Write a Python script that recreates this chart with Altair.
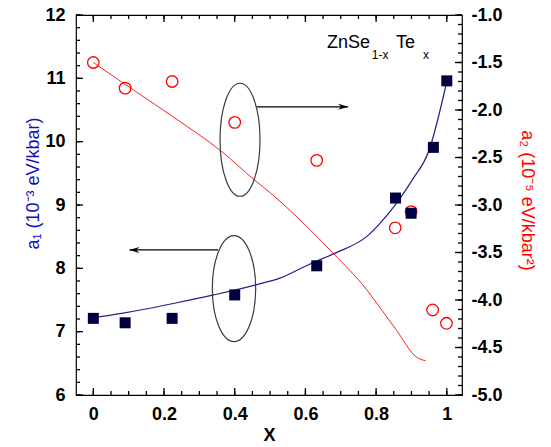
import altair as alt
import pandas as pd

# ---------------- data ----------------
sq_x = [0.0, 0.09, 0.223, 0.40, 0.632, 0.855, 0.899, 0.962, 1.0]
sq_y = [7.21, 7.14, 7.21, 7.58, 8.04, 9.11, 8.87, 9.91, 10.96]

ci_x = [0.0, 0.09, 0.223, 0.40, 0.632, 0.854, 0.899, 0.96, 0.999]
ci_y = [-1.50, -1.77, -1.70, -2.13, -2.53, -3.24, -3.07, -4.105, -4.245]

fit1_x = [0.0, 0.08, 0.16, 0.24, 0.34, 0.46, 0.53, 0.61, 0.684, 0.773, 0.811, 0.858, 0.905, 0.947, 1.0]
fit1_y = [7.22, 7.29, 7.37, 7.46, 7.58, 7.74, 7.85, 8.06, 8.24, 8.50, 8.71, 9.03, 9.42, 9.82, 10.95]

fit2_x = [0.0, 0.09, 0.225, 0.364, 0.457, 0.5, 0.613, 0.679, 0.773, 0.811, 0.858, 0.914, 0.94]
fit2_y = [-1.50, -1.73, -2.07, -2.44, -2.74, -2.87, -3.26, -3.51, -3.89, -4.08, -4.32, -4.60, -4.64]

x_major = [0, 0.2, 0.4, 0.6, 0.8, 1]
x_minor = [round(0.05 * i, 2) for i in range(21)]
y1_major = [6, 7, 8, 9, 10, 11, 12]
y1_minor = [round(6 + 0.2 * i, 1) for i in range(31)]
y2_major = [-5, -4.5, -4, -3.5, -3, -2.5, -2, -1.5, -1]
y2_minor = [round(-5 + 0.1 * i, 1) for i in range(41)]

# annotation anchors (data coordinates, left axis)
ell_x = [0.415, 0.398]
ell_y = [10.03, 7.68]
arr_x = [0.463, 0.353]
arr_x2 = [0.721, 0.102]
arr_y = [10.55, 8.29]

# ---------------- frames ----------------
sq = pd.DataFrame({"x": sq_x, "y": sq_y})
ci = pd.DataFrame({"x": ci_x, "y": ci_y})
f1 = pd.DataFrame({"x": fit1_x, "y": fit1_y})
f2 = pd.DataFrame({"x": fit2_x, "y": fit2_y})
arr = pd.DataFrame({"x": arr_x, "x2": arr_x2, "y": arr_y})

W, H = 386, 380
XS = alt.Scale(domain=[-0.049, 1.043], nice=False, zero=False)
Y1 = alt.Scale(domain=[6, 12], nice=False, zero=False)
Y2 = alt.Scale(domain=[-5, -1], nice=False, zero=False)
FONT = "Liberation Sans"
MAJ, MIN = 7, 4

red_line = alt.Chart(f2).mark_line(color="#ff2020", strokeWidth=1, interpolate="monotone").encode(
    x=alt.X("x:Q", scale=XS, axis=None),
    y=alt.Y("y:Q", scale=Y2, axis=alt.Axis(
        orient="right", values=y2_major, ticks=False, domain=False, grid=False,
        title="a₂ (10⁻⁵ eV/kbar²)",
        labelExpr="replace(format(datum.value, '.1f'), '\u2212', '-')",
        labelPadding=9, labelAlign="left",
        titleColor="#ff0000", titleFontSize=18, titleFontWeight="normal", titleFont=FONT,
        titleBaseline="alphabetic", titleX=59, titleY=185)),
    order="x:Q",
)

red_pts = alt.Chart(ci).mark_point(shape="circle", size=133, color="#ff0000",
                                   strokeWidth=1.3, filled=False, opacity=1).encode(
    x=alt.X("x:Q", scale=XS, axis=None),
    y=alt.Y("y:Q", scale=Y2, axis=None),
)

blue_line = alt.Chart(f1).mark_line(color="#22228a", strokeWidth=1.2, interpolate="monotone").encode(
    x=alt.X("x:Q", scale=XS, axis=alt.Axis(
        orient="bottom", values=x_major, ticks=False, domain=False, grid=False,
        title="X", format="~g", labelPadding=10,
        titleFontSize=18, titleFontWeight="bold", titleFont=FONT, titleColor="black",
        titlePadding=3)),
    y=alt.Y("y:Q", scale=Y1, axis=alt.Axis(
        orient="left", values=y1_major, ticks=False, domain=False, grid=False,
        title="a₁ (10⁻³ eV/kbar)", labelPadding=11,
        titleColor="#1010b8", titleFontSize=18, titleFontWeight="normal", titleFont=FONT,
        titleBaseline="alphabetic", titleX=-38, titleY=168)),
    order="x:Q",
)

squares = alt.Chart(sq).mark_square(size=121, color="#000040", opacity=1).encode(
    x=alt.X("x:Q", scale=XS, axis=None),
    y=alt.Y("y:Q", scale=Y1, axis=None),
)


# ---------------- inward tick marks (from the tick value lists) ----------------
def xticks(values, length, top):
    d = pd.DataFrame({"v": values})
    y0, y1 = (0, length) if top else (H, H - length)
    return alt.Chart(d).mark_rule(color="#000000", strokeWidth=1.3).encode(
        x=alt.X("v:Q", scale=XS, axis=None), y=alt.value(y0), y2=alt.value(y1))


def yticks(values, scale, length, right):
    d = pd.DataFrame({"v": values})
    x0, x1 = (W, W - length) if right else (0, length)
    return alt.Chart(d).mark_rule(color="#000000", strokeWidth=1.3).encode(
        y=alt.Y("v:Q", scale=scale, axis=None), x=alt.value(x0), x2=alt.value(x1))


tick_layers = [
    xticks(x_minor, MIN, False), xticks(x_major, MAJ, False),
    xticks(x_minor, MIN, True), xticks(x_major, MAJ, True),
    yticks(y1_minor, Y1, MIN, False), yticks(y1_major, Y1, MAJ, False),
    yticks(y2_minor, Y2, MIN, True), yticks(y2_major, Y2, MAJ, True),
]


def ellipse_path(a):
    k = 0.5523
    return (f"M0,-1C{k*a:.4f},-1 {a:.4f},{-k:.4f} {a:.4f},0"
            f"C{a:.4f},{k:.4f} {k*a:.4f},1 0,1"
            f"C{-k*a:.4f},1 {-a:.4f},{k:.4f} {-a:.4f},0"
            f"C{-a:.4f},{-k:.4f} {-k*a:.4f},-1 0,-1Z")


ell_specs = [(0.354, 12769), (0.409, 11236)]
ellipses = []
for i, (ratio, sz) in enumerate(ell_specs):
    d = pd.DataFrame({"x": [ell_x[i]], "y": [ell_y[i]]})
    ellipses.append(alt.Chart(d).mark_point(shape=ellipse_path(ratio), size=sz, filled=False,
                                            color="#3a3a3a", strokeWidth=1.2, opacity=1).encode(
        x=alt.X("x:Q", scale=XS, axis=None),
        y=alt.Y("y:Q", scale=Y1, axis=None),
    ))

rules = alt.Chart(arr).mark_rule(color="black", strokeWidth=1.2).encode(
    x=alt.X("x:Q", scale=XS, axis=None), x2="x2:Q",
    y=alt.Y("y:Q", scale=Y1, axis=None),
)

heads = []
for i, path in enumerate(["M0,0L-2,-0.6L-1.4,0L-2,0.6Z", "M0,0L2,-0.6L1.4,0L2,0.6Z"]):
    d = pd.DataFrame({"x": [arr_x2[i]], "y": [arr_y[i]]})
    heads.append(alt.Chart(d).mark_point(shape=path, size=100, filled=True, color="black",
                                         opacity=1, strokeWidth=0.5).encode(
        x=alt.X("x:Q", scale=XS, axis=None),
        y=alt.Y("y:Q", scale=Y1, axis=None),
    ))

lbl_main = pd.DataFrame({"x": [0.661, 0.856], "y": [11.48, 11.48], "t": ["ZnSe", "Te"]})
lbl_sub = pd.DataFrame({"x": [0.788, 0.933], "y": [11.30, 11.30], "t": ["1-x", "x"]})
txt_main = alt.Chart(lbl_main).mark_text(align="left", baseline="alphabetic", font=FONT,
                                         fontSize=18, color="black").encode(
    x=alt.X("x:Q", scale=XS, axis=None), y=alt.Y("y:Q", scale=Y1, axis=None), text="t:N")
txt_sub = alt.Chart(lbl_sub).mark_text(align="left", baseline="alphabetic", font=FONT,
                                       fontSize=12, color="black").encode(
    x=alt.X("x:Q", scale=XS, axis=None), y=alt.Y("y:Q", scale=Y1, axis=None), text="t:N")

chart = alt.layer(
    red_line, red_pts, blue_line, squares, *tick_layers, *ellipses, rules, *heads,
    txt_main, txt_sub
).resolve_scale(y="independent").resolve_axis(x="independent", y="independent").properties(
    width=W, height=H,
    autosize=alt.AutoSizeParams(type="none"),
    padding={"left": 76, "top": 15, "right": 89, "bottom": 52},
    background="white",
).configure_view(stroke="black", strokeWidth=1.2).configure_axis(
    labelFont=FONT, labelFontSize=18, labelFontWeight="bold", labelColor="black",
)

chart.save("out.html", embed_options={"renderer": "svg", "actions": False})
